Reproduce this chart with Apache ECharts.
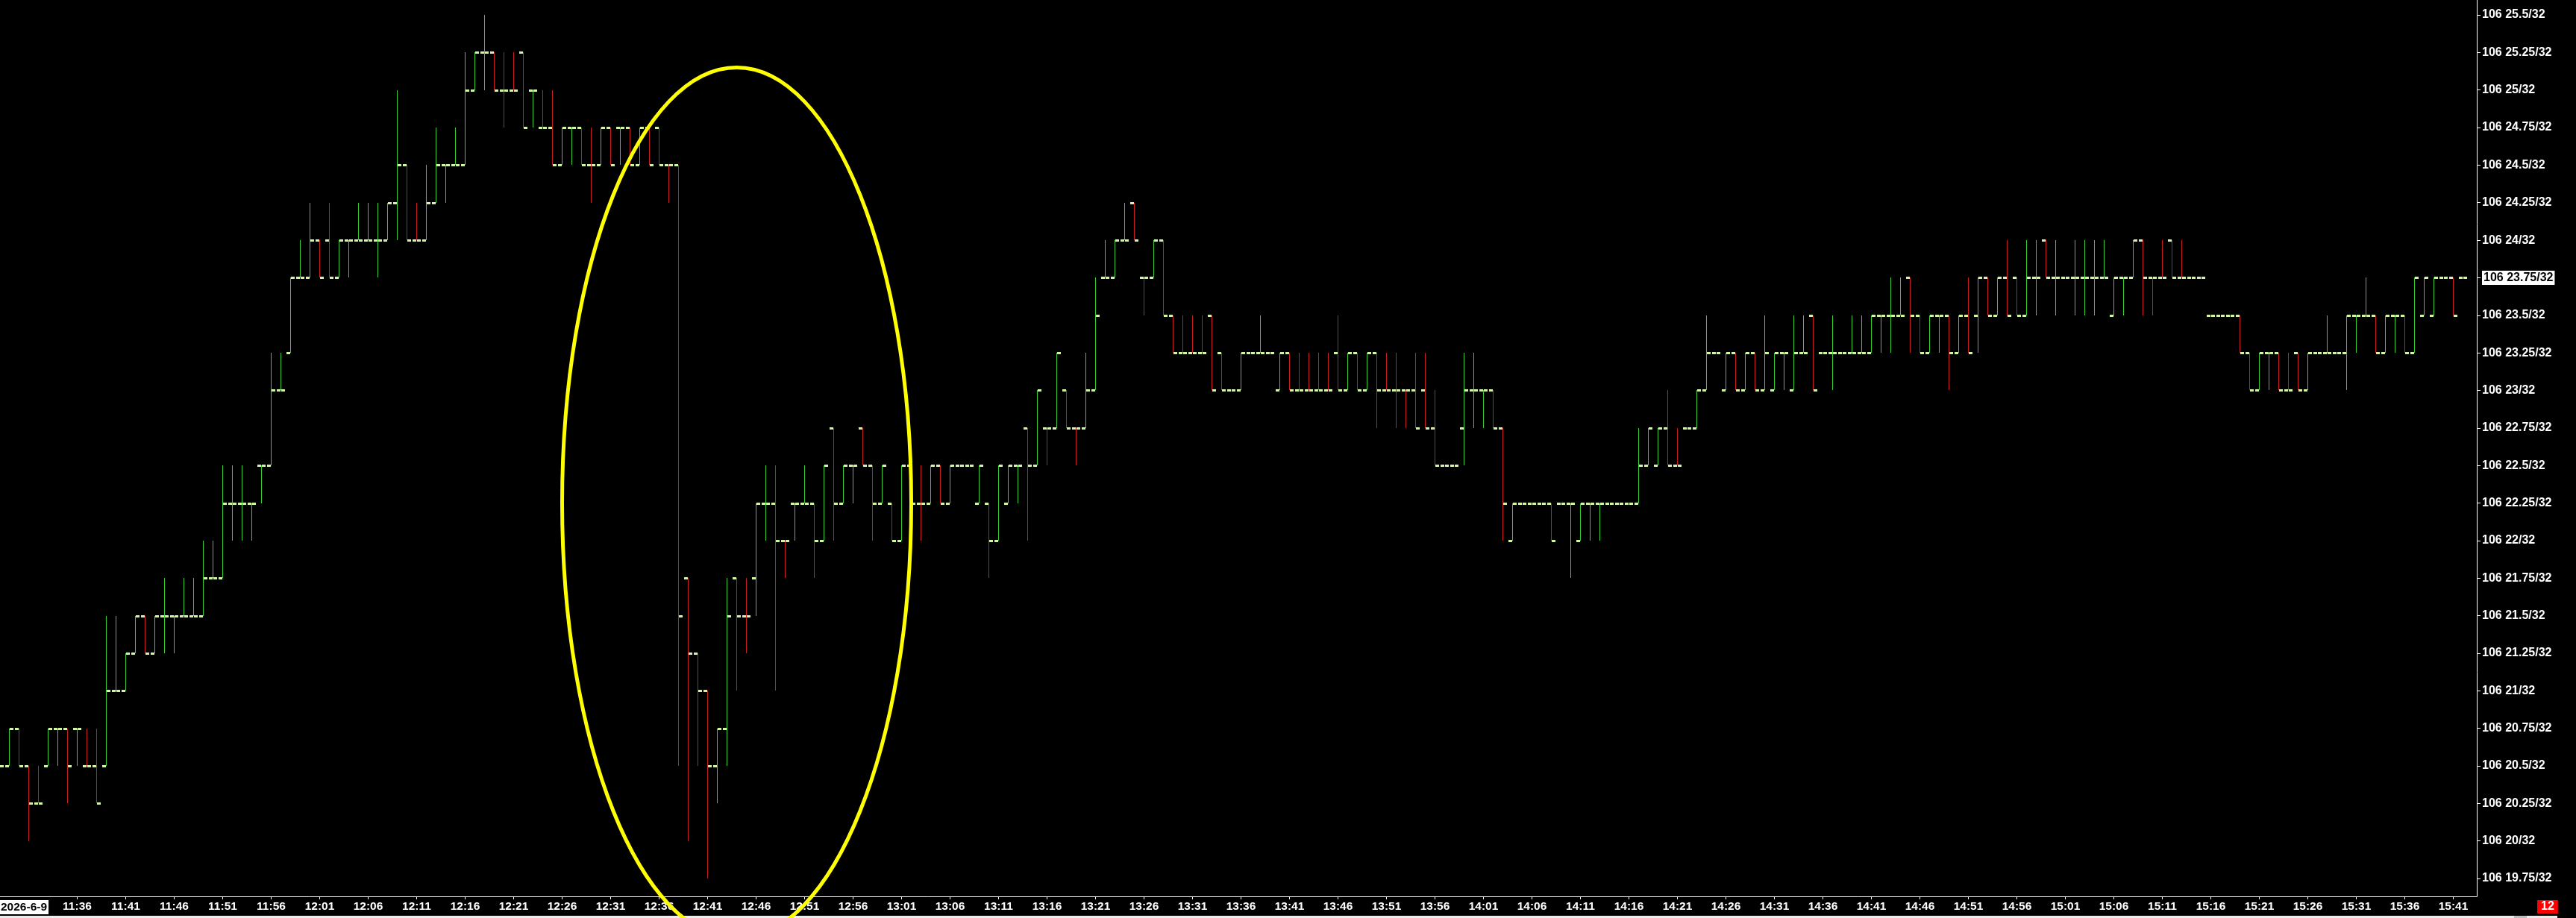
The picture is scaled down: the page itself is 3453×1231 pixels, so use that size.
<!DOCTYPE html>
<html><head><meta charset="utf-8">
<script src="https://cdn.jsdelivr.net/npm/echarts@6/dist/echarts.min.js"></script>
<style>html,body{margin:0;padding:0;background:#000;overflow:hidden}#c{width:3453px;height:1231px}</style>
</head><body><div id="c"></div>
<script>
// ---- data (prices in 32nds above 106) ----
const sessionDate = '2026-6-9';
const startTime = '11:28';
// one row per minute: [open, high, low, close]
const bars = [
 [20.5,20.5,20.5,20.5],[20.5,20.75,20.5,20.75],[20.75,20.75,20.5,20.5],[20.5,20.5,20.0,20.25],[20.25,20.5,20.25,20.25], // 11:28
 [20.5,20.75,20.5,20.75],[20.75,20.75,20.5,20.75],[20.75,20.75,20.25,20.5],[20.75,20.75,20.5,20.75],[20.5,20.75,20.5,20.5], // 11:33
 [20.5,20.75,20.25,20.25],[20.5,21.5,20.5,21.0],[21.0,21.5,21.0,21.0],[21.0,21.25,21.0,21.25],[21.25,21.5,21.25,21.5], // 11:38
 [21.5,21.5,21.25,21.25],[21.25,21.5,21.25,21.5],[21.5,21.75,21.25,21.5],[21.5,21.5,21.25,21.5],[21.5,21.75,21.5,21.5], // 11:43
 [21.5,21.75,21.5,21.5],[21.5,22.0,21.5,21.75],[21.75,22.0,21.75,21.75],[21.75,22.5,21.75,22.25],[22.25,22.5,22.0,22.25], // 11:48
 [22.25,22.5,22.0,22.25],[22.25,22.25,22.0,22.25],[22.5,22.5,22.25,22.5],[22.5,23.25,22.5,23.0],[23.0,23.25,23.0,23.0], // 11:53
 [23.25,23.75,23.25,23.75],[23.75,24.0,23.75,23.75],[23.75,24.25,23.75,24.0],[24.0,24.0,23.75,23.75],[24.0,24.25,23.75,23.75], // 11:58
 [23.75,24.0,23.75,24.0],[24.0,24.0,23.75,24.0],[24.0,24.25,24.0,24.0],[24.0,24.25,24.0,24.0],[24.0,24.25,23.75,24.0], // 12:03
 [24.0,24.25,24.0,24.25],[24.25,25.0,24.0,24.5],[24.5,24.5,24.0,24.0],[24.0,24.25,24.0,24.0],[24.0,24.5,24.0,24.25], // 12:08
 [24.25,24.75,24.25,24.5],[24.5,24.5,24.25,24.5],[24.5,24.75,24.5,24.5],[24.5,25.25,24.5,25.0],[25.0,25.25,25.0,25.25], // 12:13
 [25.25,25.5,25.0,25.25],[25.25,25.25,25.0,25.0],[25.0,25.25,24.75,25.0],[25.0,25.25,25.0,25.0],[25.25,25.25,24.75,24.75], // 12:18
 [25.0,25.0,24.75,25.0],[24.75,25.0,24.75,24.75],[24.75,25.0,24.5,24.5],[24.5,24.75,24.5,24.75],[24.75,24.75,24.5,24.75], // 12:23
 [24.75,24.75,24.5,24.5],[24.5,24.75,24.25,24.5],[24.5,24.75,24.5,24.75],[24.75,24.75,24.5,24.5],[24.75,24.75,24.5,24.75], // 12:28
 [24.75,24.75,24.5,24.5],[24.5,24.75,24.5,24.75],[24.75,24.75,24.5,24.5],[24.75,24.75,24.5,24.5],[24.5,24.5,24.25,24.5], // 12:33
 [24.5,24.5,20.5,21.5],[21.75,21.75,20.0,21.25],[21.25,21.25,20.5,21.0],[21.0,21.0,19.75,20.5],[20.5,20.75,20.25,20.75], // 12:38
 [20.75,21.75,20.5,21.5],[21.75,21.75,21.0,21.5],[21.5,21.75,21.25,21.5],[21.75,22.25,21.5,22.25],[22.25,22.5,22.0,22.25], // 12:43
 [22.25,22.5,21.0,22.0],[22.0,22.0,21.75,22.0],[22.25,22.25,22.0,22.25],[22.25,22.5,22.25,22.25],[22.25,22.25,21.75,22.0], // 12:48
 [22.0,22.5,22.0,22.5],[22.75,22.75,22.0,22.25],[22.25,22.5,22.25,22.5],[22.5,22.5,22.25,22.5],[22.75,22.75,22.5,22.5], // 12:53
 [22.5,22.5,22.0,22.25],[22.25,22.5,22.25,22.5],[22.25,22.25,22.0,22.0],[22.0,22.5,22.0,22.5],[22.5,22.5,22.25,22.25], // 12:58
 [22.25,22.5,22.0,22.25],[22.25,22.5,22.25,22.5],[22.5,22.5,22.25,22.25],[22.25,22.5,22.25,22.5],[22.5,22.5,22.5,22.5], // 13:03
 [22.5,22.5,22.5,22.5],[22.25,22.5,22.25,22.5],[22.25,22.25,21.75,22.0],[22.0,22.5,22.0,22.5],[22.25,22.5,22.25,22.5], // 13:08
 [22.5,22.5,22.25,22.5],[22.75,22.75,22.0,22.5],[22.5,23.0,22.5,23.0],[22.75,22.75,22.5,22.75],[22.75,23.25,22.75,23.25], // 13:13
 [23.0,23.0,22.75,22.75],[22.75,22.75,22.5,22.75],[22.75,23.25,22.75,23.0],[23.0,23.75,23.0,23.5],[23.75,24.0,23.75,23.75], // 13:18
 [23.75,24.0,23.75,24.0],[24.0,24.25,24.0,24.0],[24.25,24.25,24.0,24.0],[23.75,23.75,23.5,23.75],[23.75,24.0,23.75,24.0], // 13:23
 [24.0,24.0,23.5,23.5],[23.5,23.5,23.25,23.25],[23.25,23.5,23.25,23.25],[23.25,23.5,23.25,23.25],[23.25,23.5,23.25,23.25], // 13:28
 [23.5,23.5,23.0,23.0],[23.25,23.25,23.0,23.0],[23.0,23.0,23.0,23.0],[23.0,23.25,23.0,23.25],[23.25,23.25,23.25,23.25], // 13:33
 [23.25,23.5,23.25,23.25],[23.25,23.25,23.25,23.25],[23.0,23.25,23.0,23.25],[23.25,23.25,23.0,23.0],[23.0,23.25,23.0,23.0], // 13:38
 [23.0,23.25,23.0,23.0],[23.0,23.25,23.0,23.0],[23.0,23.25,23.0,23.0],[23.25,23.5,23.0,23.0],[23.0,23.25,23.0,23.25], // 13:43
 [23.25,23.25,23.0,23.0],[23.0,23.25,23.0,23.25],[23.25,23.25,22.75,23.0],[23.0,23.25,23.0,23.0],[23.0,23.25,22.75,23.0], // 13:48
 [23.0,23.0,22.75,23.0],[23.0,23.25,22.75,22.75],[23.0,23.25,22.75,22.75],[22.75,23.0,22.5,22.5],[22.5,22.5,22.5,22.5], // 13:53
 [22.5,22.5,22.5,22.5],[22.75,23.25,22.5,23.0],[23.0,23.25,22.75,23.0],[23.0,23.0,22.75,23.0],[23.0,23.0,22.75,22.75], // 13:58
 [22.75,22.75,22.0,22.25],[22.0,22.25,22.0,22.25],[22.25,22.25,22.25,22.25],[22.25,22.25,22.25,22.25],[22.25,22.25,22.25,22.25], // 14:03
 [22.25,22.25,22.0,22.0],[22.25,22.25,22.25,22.25],[22.25,22.25,21.75,22.25],[22.0,22.25,22.0,22.25],[22.25,22.25,22.0,22.25], // 14:08
 [22.25,22.25,22.0,22.25],[22.25,22.25,22.25,22.25],[22.25,22.25,22.25,22.25],[22.25,22.25,22.25,22.25],[22.25,22.75,22.25,22.5], // 14:13
 [22.5,22.75,22.5,22.75],[22.5,22.75,22.5,22.75],[22.75,23.0,22.5,22.5],[22.5,22.75,22.5,22.5],[22.75,22.75,22.75,22.75], // 14:18
 [22.75,23.0,22.75,23.0],[23.0,23.5,23.0,23.25],[23.25,23.25,23.25,23.25],[23.0,23.25,23.0,23.25],[23.25,23.25,23.0,23.0], // 14:23
 [23.0,23.25,23.0,23.25],[23.25,23.25,23.0,23.0],[23.0,23.5,23.0,23.25],[23.0,23.25,23.0,23.25],[23.25,23.25,23.0,23.25], // 14:28
 [23.0,23.5,23.0,23.25],[23.25,23.5,23.25,23.25],[23.5,23.5,23.0,23.0],[23.25,23.25,23.25,23.25],[23.25,23.5,23.0,23.25], // 14:33
 [23.25,23.25,23.25,23.25],[23.25,23.5,23.25,23.25],[23.25,23.5,23.25,23.25],[23.25,23.5,23.25,23.5],[23.5,23.5,23.25,23.5], // 14:38
 [23.5,23.75,23.25,23.5],[23.5,23.75,23.5,23.5],[23.75,23.75,23.25,23.5],[23.5,23.5,23.25,23.25],[23.25,23.5,23.25,23.5], // 14:43
 [23.5,23.5,23.25,23.5],[23.5,23.5,23.0,23.25],[23.25,23.5,23.25,23.5],[23.5,23.75,23.25,23.25],[23.5,23.75,23.25,23.75], // 14:48
 [23.75,23.75,23.5,23.5],[23.5,23.75,23.5,23.75],[23.75,24.0,23.5,23.5],[23.75,23.75,23.5,23.5],[23.5,24.0,23.5,23.75], // 14:53
 [23.75,24.0,23.5,23.75],[24.0,24.0,23.75,23.75],[23.75,24.0,23.5,23.75],[23.75,23.75,23.75,23.75],[23.75,24.0,23.5,23.75], // 14:58
 [23.75,24.0,23.5,23.75],[23.75,24.0,23.5,23.75],[23.75,24.0,23.75,23.75],[23.5,23.75,23.5,23.75],[23.75,23.75,23.5,23.75], // 15:03
 [23.75,24.0,23.75,24.0],[24.0,24.0,23.5,23.75],[23.75,23.75,23.5,23.75],[23.75,24.0,23.75,23.75],[24.0,24.0,23.75,23.75], // 15:08
 [23.75,24.0,23.75,23.75],[23.75,23.75,23.75,23.75],[23.75,23.75,23.75,23.75],[23.5,23.5,23.5,23.5],[23.5,23.5,23.5,23.5], // 15:13
 [23.5,23.5,23.5,23.5],[23.5,23.5,23.25,23.25],[23.25,23.25,23.0,23.0],[23.0,23.25,23.0,23.25],[23.25,23.25,23.0,23.25], // 15:18
 [23.25,23.25,23.0,23.0],[23.0,23.25,23.0,23.0],[23.25,23.25,23.0,23.0],[23.0,23.25,23.0,23.25],[23.25,23.25,23.25,23.25], // 15:23
 [23.25,23.5,23.25,23.25],[23.25,23.25,23.25,23.25],[23.25,23.5,23.0,23.5],[23.5,23.5,23.25,23.5],[23.5,23.75,23.5,23.5], // 15:28
 [23.5,23.5,23.25,23.25],[23.25,23.5,23.25,23.5],[23.5,23.5,23.25,23.5],[23.5,23.5,23.25,23.25],[23.25,23.75,23.25,23.75], // 15:33
 [23.5,23.75,23.5,23.75],[23.5,23.75,23.5,23.75],[23.75,23.75,23.75,23.75],[23.75,23.75,23.5,23.5],[23.75,23.75,23.75,23.75]  // 15:38
];
// bar colour, one letter per minute: u = green (up), d = red (down)
const barColour = (
 'uuddd uudud duuuu duuuu uuuuu uuuuu uuudd uuuuu uuddu uuuuu ' + // 11:28
 'udddd udduu ddudu duddd ddddu udduu dduud uduud dudud duduu ' + // 12:18
 'uuduu ududu dduuu uuddu ddddd ddduu uuudd ddddu duddd ddddd ' + // 13:08
 'duuud duuuu duuuu uuuuu uuddu uuuud uduuu uuduu uuuuu uuddu ' + // 13:58
 'ududu duddu uduuu uuuuu udddd ddddd ddduu ddduu uuuuu duudu uuudu' // 14:48
).replace(/\s+/g,'');
const xTickLabels = ['11:36','11:41','11:46','11:51','11:56','12:01','12:06','12:11','12:16','12:21','12:26','12:31','12:36',
 '12:41','12:46','12:51','12:56','13:01','13:06','13:11','13:16','13:21','13:26','13:31','13:36','13:41','13:46','13:51',
 '13:56','14:01','14:06','14:11','14:16','14:21','14:26','14:31','14:36','14:41','14:46','14:51','14:56','15:01','15:06',
 '15:11','15:16','15:21','15:26','15:31','15:36','15:41'];
const yTickValues = [19.75,20,20.25,20.5,20.75,21,21.25,21.5,21.75,22,22.25,22.5,22.75,23,23.25,23.5,23.75,24,24.25,24.5,24.75,25,25.25,25.5];
const lastPrice = 23.75;
const circleCenter = {time:'12:44', price:22.25};
const circleRadius = {minutes:18, price:2.9};
const counterText = '12';

// ---- derived ----
function toMin(t){const [h,m]=t.split(':').map(Number);return h*60+m;}
function toTime(n){const h=Math.floor(n/60),m=n%60;return h+':'+(m<10?'0':'')+m;}
const t0 = toMin(startTime);
const times = bars.map((b,i)=>toTime(t0+i));
const seriesData = bars.map((b,i)=>[i,b[0],b[1],b[2],b[3],barColour[i]==='d'?-1:1]);
const xTickIdx = xTickLabels.map(t=>times.indexOf(t));

const GREEN='#3ccf32', RED='#c81e1e', TICK='#d2f5a6';
const FONT='"Liberation Sans", Arial, sans-serif';

function renderItem(params, api){
  const i=api.value(0),o=api.value(1),h=api.value(2),l=api.value(3),c=api.value(4),d=api.value(5);
  const pO=api.coord([i,o]),pH=api.coord([i,h]),pL=api.coord([i,l]),pC=api.coord([i,c]);
  const x=Math.round(pO[0]-0.5)+0.5;
  const col=d>0?GREEN:RED;
  const ch=[];
  if(h>l) ch.push({type:'line',shape:{x1:x,y1:Math.round(pH[1]),x2:x,y2:Math.round(pL[1])},style:{stroke:col,lineWidth:1}});
  ch.push({type:'rect',shape:{x:x-5.5,y:Math.round(pO[1])-1,width:5,height:3},style:{fill:TICK}});
  ch.push({type:'rect',shape:{x:x+0.5,y:Math.round(pC[1])-1,width:5,height:3},style:{fill:TICK}});
  return {type:'group',children:ch};
}

const chart = echarts.init(document.getElementById('c'), null, {renderer:'canvas'});
chart.setOption({
  animation:false,
  backgroundColor:'#000',
  grid:{left:0,top:0,width:3320,height:1202},
  xAxis:{type:'value',min:0.5/13,max:3320.5/13,
    axisLine:{show:true,lineStyle:{color:'#fff',width:1}},
    axisTick:{show:true,length:4,lineStyle:{color:'#fff'},customValues:xTickIdx},
    axisLabel:{show:true,customValues:xTickIdx,color:'#fff',fontWeight:'bold',fontSize:15.5,fontFamily:FONT,margin:6,
      formatter:v=>times[Math.round(v)]},
    splitLine:{show:false}},
  yAxis:{type:'value',position:'right',min:19.631,max:25.5993,
    axisLine:{show:true,onZero:false,lineStyle:{color:'#fff',width:1}},
    axisTick:{show:true,length:5,lineStyle:{color:'#fff'},customValues:yTickValues},
    axisLabel:{show:true,customValues:yTickValues,color:'#fff',fontWeight:'bold',fontSize:16,fontFamily:FONT,margin:7,
      formatter:v=>{const s='106 '+v+'/32';return Math.abs(v-lastPrice)<1e-6?'{hl|'+s+'}':s;},
      rich:{hl:{backgroundColor:'#fff',color:'#000',fontWeight:'bold',fontSize:16,fontFamily:FONT,padding:[2,2,1,2]}}},
    splitLine:{show:false}},
  series:[{type:'custom',renderItem,data:seriesData,encode:{x:0,y:[1,2,3,4]},clip:true,z:5}]
});

const ci = times.indexOf(circleCenter.time);
const c0 = chart.convertToPixel({gridIndex:0},[ci,circleCenter.price]);
const c1 = chart.convertToPixel({gridIndex:0},[ci+circleRadius.minutes,circleCenter.price-circleRadius.price]);
chart.setOption({graphic:[
  {type:'rect',shape:{x:0,y:1228,width:3428,height:3},style:{fill:'#ececec'},z:50},
  {type:'rect',shape:{x:3370,y:1228,width:17,height:3},style:{fill:'#bdbdbd'},z:51},
  {type:'text',left:0,top:1207,z:60,style:{text:sessionDate,fill:'#000',backgroundColor:'#fff',font:'bold 15.5px '+FONT,padding:[2,2,1,1]}},
  {type:'text',left:3401,top:1207,z:60,style:{text:counterText,fill:'#fff',backgroundColor:'#ff0000',font:'bold 16px '+FONT,padding:[1,5,1,5]}},
  {type:'ellipse',z:100,shape:{cx:c0[0],cy:c0[1],rx:Math.abs(c1[0]-c0[0]),ry:Math.abs(c1[1]-c0[1])},
   style:{fill:null,stroke:'#ffff00',lineWidth:5}}
]});
</script></body></html>
